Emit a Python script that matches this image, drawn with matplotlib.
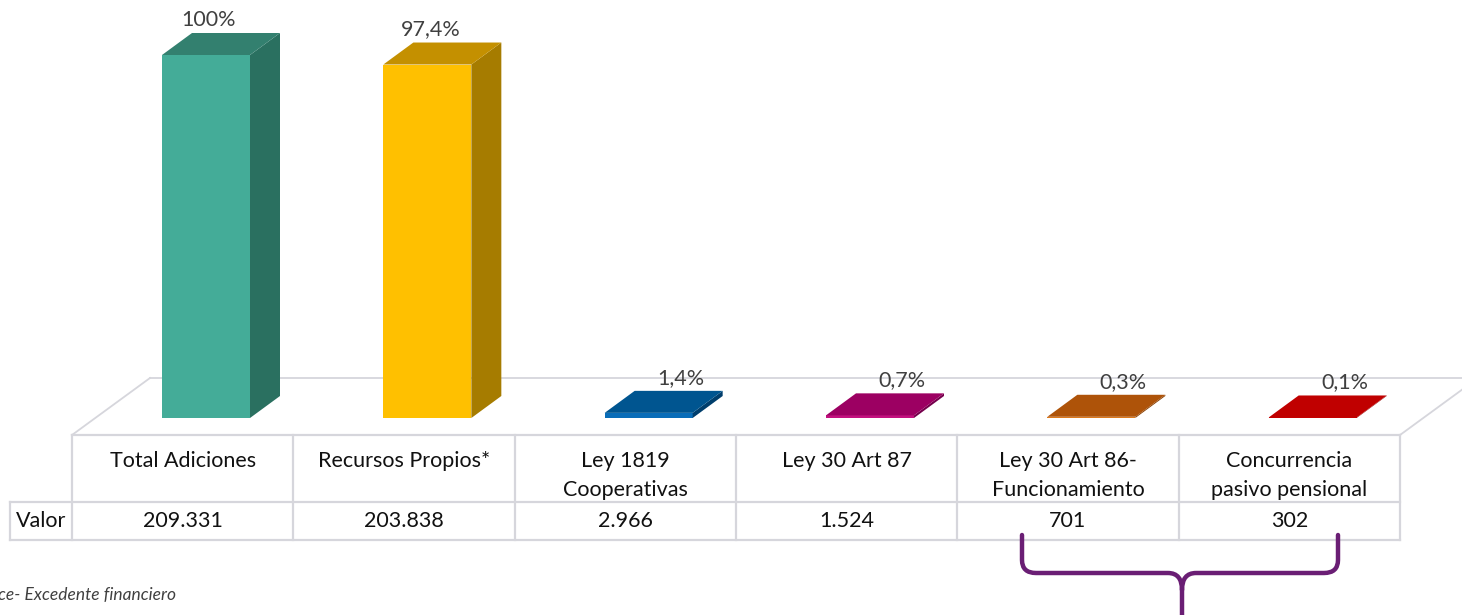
import numpy as np
import matplotlib
matplotlib.use("Agg")
import matplotlib.pyplot as plt
from matplotlib.patches import Polygon, PathPatch
from matplotlib.path import Path

# ---------------- data ----------------
categories = ["Total Adiciones", "Recursos Propios*", "Ley 1819\nCooperativas",
              "Ley 30 Art 87", "Ley 30 Art 86-\nFuncionamiento", "Concurrencia\npasivo pensional"]
values = [209331, 203838, 2966, 1524, 701, 302]
row_label = "Valor"
footnote = "ce- Excedente financiero"

# ---------------- style ----------------
front_colors = ["#44AC98", "#FFC000", "#0A6DB8", "#C3117F", "#DD7A1C", "#C80000"]
side_colors = ["#2A7060", "#A67C00", "#003E6C", "#75004C", "#8A4206", "#8A0000"]
top_colors = ["#33806F", "#C49000", "#005590", "#9C0062", "#AE5309", "#C00000"]

W, H = 1462, 615
plt.rcParams["font.family"] = ["Lato", "DejaVu Sans"]
FS = 15.5
TXT = "#111111"
LBL = "#404040"
GRID = "#D6D6DC"

fig = plt.figure(figsize=(W / 100, H / 100), dpi=100)
bg = fig.add_axes([0, 0, 1, 1])
bg.set_xlim(0, W)
bg.set_ylim(H, 0)
bg.axis("off")

# table / floor geometry (pixels)
tab_left, tab_right = 72, 1400
col_w = (tab_right - tab_left) / len(categories)
row_top, row_mid, row_bot = 435, 502, 540
valor_left = 10
floor_dx, floor_dy = 78, 57

# floor outline
bg.plot([tab_left, tab_left + floor_dx], [row_top, row_top - floor_dy], color=GRID, lw=1.3, zorder=1)
bg.plot([tab_left + floor_dx, W + 5], [row_top - floor_dy] * 2, color=GRID, lw=1.3, zorder=1)
bg.plot([tab_right, tab_right + floor_dx], [row_top, row_top - floor_dy], color=GRID, lw=1.3, zorder=1)

# table lines
bg.plot([tab_left, tab_right], [row_top, row_top], color=GRID, lw=1.6, zorder=1)
bg.plot([valor_left, tab_right], [row_mid, row_mid], color=GRID, lw=1.6, zorder=1)
bg.plot([valor_left, tab_right], [row_bot, row_bot], color=GRID, lw=1.6, zorder=1)
bg.plot([valor_left, valor_left], [row_mid, row_bot], color=GRID, lw=1.6, zorder=1)
for k in range(len(categories) + 1):
    xx = tab_left + k * col_w
    bg.plot([xx, xx], [row_top, row_bot], color=GRID, lw=1.6, zorder=1)

# table text
for i, (cat, v) in enumerate(zip(categories, values)):
    cx = tab_left + (i + 0.5) * col_w
    for j, line in enumerate(cat.split("\n")):
        bg.text(cx, 467 + j * 29, line, ha="center", va="baseline", fontsize=FS, color=TXT)
    bg.text(cx, 527, f"{v:,}".replace(",", "."), ha="center", va="baseline", fontsize=FS, color=TXT)
bg.text((valor_left + tab_left) / 2, 527, row_label, ha="center", va="baseline", fontsize=FS, color=TXT)

# footnote
bg.text(-2, 600, footnote, ha="left", va="baseline", fontsize=12.5, style="italic", color=LBL)

# brace
bc = "#6A1E74"
verts = [(1022, 535), (1022, 560), (1022, 573), (1036, 573), (1168, 573), (1182, 573), (1182, 590),
         (1182, 620),
         (1182, 590), (1182, 573), (1196, 573), (1324, 573), (1338, 573), (1338, 560), (1338, 535)]
codes = [Path.MOVETO, Path.LINETO, Path.CURVE3, Path.CURVE3, Path.LINETO, Path.CURVE3, Path.CURVE3,
         Path.LINETO,
         Path.MOVETO, Path.CURVE3, Path.CURVE3, Path.LINETO, Path.CURVE3, Path.CURVE3, Path.LINETO]
bg.add_patch(PathPatch(Path(verts, codes), fill=False, edgecolor=bc, lw=3.2, capstyle="round", zorder=3))

# ---------------- bars ----------------
bar_bottom_px, bar_top_px = 418, 55
ax = fig.add_axes([tab_left / W, (H - bar_bottom_px) / H, (tab_right - tab_left) / W,
                   (bar_bottom_px - bar_top_px) / H])
ax.set_xlim(-0.5, len(categories) - 0.5)
vmax = max(values)
ax.set_ylim(0, vmax)
ax.axis("off")
ax.patch.set_alpha(0)

bar_w = 88 / col_w
shift = (90 + 44) / col_w - 0.5
DX, DY = 30, 22
x = np.arange(len(categories)) + shift
ax.bar(x, values, width=bar_w, color=front_colors, linewidth=0, zorder=2)

inv = ax.transData.inverted()
total = values[0]
for i, v in enumerate(values):
    x0, x1 = x[i] - bar_w / 2, x[i] + bar_w / 2
    d = ax.transData.transform([(x0, 0), (x1, 0), (x1, v), (x0, v)])
    side = inv.transform([d[1], d[1] + (DX, DY), d[2] + (DX, DY), d[2]])
    top = inv.transform([d[3], d[2], d[2] + (DX, DY), d[3] + (DX, DY)])
    ax.add_patch(Polygon(side, closed=True, facecolor=side_colors[i], edgecolor="none", clip_on=False, zorder=2))
    ax.add_patch(Polygon(top, closed=True, facecolor=top_colors[i], edgecolor="none", clip_on=False, zorder=2))
    pct = v / total * 100
    lab = "100%" if abs(pct - 100) < 1e-9 else f"{pct:.1f}%".replace(".", ",")
    tall = v > 0.5 * vmax
    lx = (d[3][0] + d[2][0]) / 2 + (3 if tall else DX + 2)
    ly = d[2][1] + DY + 7
    tp = inv.transform([(lx, ly)])[0]
    ax.text(tp[0], tp[1], lab, ha="center", va="baseline", fontsize=FS, color=LBL, clip_on=False)

fig.savefig("out.png", dpi=100)
